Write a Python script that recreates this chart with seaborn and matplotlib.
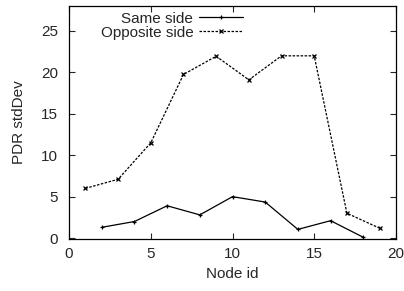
import matplotlib
matplotlib.use("Agg")
import matplotlib.pyplot as plt
import pandas as pd
import seaborn as sns

same_x = [2, 4, 6, 8, 10, 12, 14, 16, 18]
same_y = [1.3, 2.0, 3.9, 2.8, 5.0, 4.35, 1.05, 2.1, 0.1]
opp_x = [1, 3, 5, 7, 9, 11, 13, 15, 17, 19]
opp_y = [6.0, 7.1, 11.5, 19.75, 21.95, 19.1, 22.0, 22.0, 3.0, 1.2]
x_ticks = [0, 5, 10, 15, 20]
y_ticks = [0, 5, 10, 15, 20, 25]


def line_plot():
    df = pd.concat([
        pd.DataFrame({"Node id": same_x, "PDR stdDev": same_y, "side": "Same side"}),
        pd.DataFrame({"Node id": opp_x, "PDR stdDev": opp_y, "side": "Opposite side"}),
    ])
    sns.set_style("ticks")
    plt.rcParams["font.family"] = ["Liberation Sans", "DejaVu Sans"]
    fig = plt.figure(figsize=(4.04, 2.91), dpi=100)
    ax = fig.add_axes([0.171, 0.179, 0.809, 0.800])
    sns.lineplot(data=df, x="Node id", y="PDR stdDev", hue="side", style="side",
                 palette=["black", "black"], dashes=[(None, None), (2, 1.2)],
                 markers=["+", "x"], markersize=3.5, markeredgewidth=0.9,
                 markeredgecolor="black", linewidth=0.9, ax=ax, legend=False)
    ax.set_xlim(0, 20)
    ax.set_ylim(-0.1, 28)
    ax.set_xticks(x_ticks)
    ax.set_yticks(y_ticks)
    ax.tick_params(direction="in", top=True, right=True, length=4, width=0.8,
                   labelsize=11)
    ax.tick_params(axis="y", pad=8)
    ax.tick_params(axis="x", pad=6)
    for s in ax.spines.values():
        s.set_visible(True)
        s.set_linewidth(0.9)
        s.set_color("black")
    ax.set_xlabel("Node id", fontsize=11, labelpad=4)
    ax.set_ylabel("PDR stdDev", fontsize=11, labelpad=11)
    leg = ax.legend(ax.lines[:2], ["Same side", "Opposite side"],
                    loc="upper right", bbox_to_anchor=(0.532, 0.976), frameon=False,
                    markerfirst=False, fontsize=11, handlelength=2.9,
                    labelspacing=0.0, handletextpad=0.35, borderpad=0,
                    borderaxespad=0)
    fig.savefig("out.png", dpi=100)


if __name__ == '__main__':
    line_plot()
